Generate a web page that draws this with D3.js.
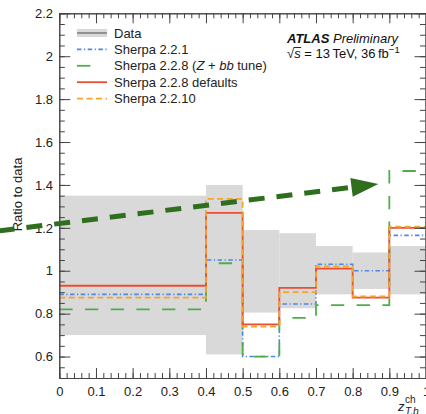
<!DOCTYPE html>
<html>
<head>
<meta charset="utf-8">
<script src="https://cdn.jsdelivr.net/npm/d3@7/dist/d3.min.js"></script>
<style>
  html, body { margin: 0; padding: 0; background: #fff; }
  svg { display: block; font-family: "Liberation Sans", Arial, Helvetica, sans-serif; }
</style>
</head>
<body>
<svg id="chart" width="426" height="414"></svg>
<script>
// Bin edges in z_T,b^ch and per-bin ratios to data
const binEdges     = [0, 0.4, 0.5, 0.6, 0.7, 0.8, 0.9, 1.0];
const dataLow      = [0.70, 0.61, 0.805, 0.825, 0.89, 0.915, 0.89];
const dataHigh     = [1.35, 1.40, 1.19, 1.175, 1.115, 1.085, 1.115];
const sherpa221    = [0.89, 1.05, 0.60, 0.845, 1.03, 1.00, 1.165];
const sherpa228Zbb = [0.82, 1.035, 0.60, 0.78, 0.84, 0.84, 1.465];
const sherpa228Def = [0.93, 1.27, 0.75, 0.92, 1.01, 0.875, 1.20];
const sherpa2210   = [0.875, 1.335, 0.74, 0.90, 1.02, 0.88, 1.205];

// Axis ticks
const xMajorTicks = [0, 0.1, 0.2, 0.3, 0.4, 0.5, 0.6, 0.7, 0.8, 0.9, 1];
const yMajorTicks = [0.6, 0.8, 1, 1.2, 1.4, 1.6, 1.8, 2, 2.2];

// Annotation arrow endpoints (x, ratio)
const arrowFrom = [-0.162, 1.186];
const arrowTo   = [0.870, 1.404];

const series = [
  { name: "Sherpa 2.2.1",             values: sherpa221,    color: "#4f86e8", dash: "4.5,2.5,1.2,2.5", width: 1.6, legendLen: 30 },
  { name: "Sherpa 2.2.8 (Z+bb tune)", values: sherpa228Zbb, color: "#4fae4a", dash: "13.3,12.4",       width: 1.8, legendLen: 15 },
  { name: "Sherpa 2.2.8 defaults",    values: sherpa228Def, color: "#ea4d35", dash: null,              width: 1.8, legendLen: 30 },
  { name: "Sherpa 2.2.10",            values: sherpa2210,   color: "#f5a42a", dash: "6,3.5",           width: 1.8, legendLen: 30 }
];

(function draw() {
  const svg = d3.select("#chart");
  const plotL = 59.3, plotR = 426, plotT = 13.3, plotB = 378;
  const x = d3.scaleLinear().domain([0, 1]).range([plotL, plotR]);
  const y = d3.scaleLinear().domain([0.5, 2.2]).range([plotB, plotT]);

  const axisColor = "#444";
  const textColor = "#222";

  // Data uncertainty band
  svg.append("g").selectAll("rect")
    .data(dataLow.map((lo, i) => ({ x0: binEdges[i], x1: binEdges[i + 1], lo, hi: dataHigh[i] })))
    .join("rect")
    .attr("x", d => x(d.x0))
    .attr("width", d => x(d.x1) - x(d.x0))
    .attr("y", d => y(d.hi))
    .attr("height", d => y(d.lo) - y(d.hi))
    .attr("fill", "#d9d9d9");

  // Histogram step lines
  const stepLine = d3.line()
    .x(d => x(d[0]))
    .y(d => y(d[1]))
    .curve(d3.curveStepAfter);

  series.forEach(s => {
    const pts = s.values.map((v, i) => [binEdges[i], v]);
    pts.push([binEdges[binEdges.length - 1], s.values[s.values.length - 1]]);
    svg.append("path")
      .attr("d", stepLine(pts))
      .attr("fill", "none")
      .attr("stroke", s.color)
      .attr("stroke-width", s.width)
      .attr("stroke-dasharray", s.dash);
  });

  // Axes (ticks pointing inward on all four sides)
  const xMinor = d3.range(0, 1.0001, 0.02).map(v => +v.toFixed(2));
  const yMinor = d3.range(0.5, 2.2001, 0.05).map(v => +v.toFixed(2));

  function styleAxis(g) {
    g.selectAll("path, line").attr("stroke", axisColor).attr("stroke-width", 1);
    g.selectAll("text").attr("fill", textColor).attr("font-size", 13)
      .attr("font-family", "Liberation Sans, Arial, Helvetica, sans-serif");
  }

  // bottom
  svg.append("g").attr("transform", `translate(0,${plotB})`)
    .call(d3.axisBottom(x).tickValues(xMinor).tickSize(-5).tickSizeOuter(0).tickFormat(""))
    .call(styleAxis);
  svg.append("g").attr("transform", `translate(0,${plotB})`)
    .call(d3.axisBottom(x).tickValues(xMajorTicks).tickSize(-10).tickSizeOuter(0).tickPadding(9)
      .tickFormat(d => d3.format("~g")(d)))
    .call(styleAxis);
  // top
  svg.append("g").attr("transform", `translate(0,${plotT})`)
    .call(d3.axisTop(x).tickValues(xMinor).tickSize(-5).tickSizeOuter(0).tickFormat(""))
    .call(styleAxis);
  svg.append("g").attr("transform", `translate(0,${plotT})`)
    .call(d3.axisTop(x).tickValues(xMajorTicks).tickSize(-10).tickSizeOuter(0).tickFormat(""))
    .call(styleAxis);
  // left
  svg.append("g").attr("transform", `translate(${plotL},0)`)
    .call(d3.axisLeft(y).tickValues(yMinor).tickSize(-5.5).tickSizeOuter(0).tickFormat(""))
    .call(styleAxis);
  svg.append("g").attr("transform", `translate(${plotL},0)`)
    .call(d3.axisLeft(y).tickValues(yMajorTicks).tickSize(-11).tickSizeOuter(0).tickPadding(6.3)
      .tickFormat(d => d3.format("~g")(d)))
    .call(styleAxis);
  // right
  svg.append("g").attr("transform", `translate(${plotR - 0.5},0)`)
    .call(d3.axisRight(y).tickValues(yMinor).tickSize(-5.5).tickSizeOuter(0).tickFormat(""))
    .call(styleAxis);
  svg.append("g").attr("transform", `translate(${plotR - 0.5},0)`)
    .call(d3.axisRight(y).tickValues(yMajorTicks).tickSize(-11).tickSizeOuter(0).tickFormat(""))
    .call(styleAxis);

  // Axis titles
  svg.append("text")
    .attr("transform", "translate(22,194.5) rotate(-90)")
    .attr("text-anchor", "middle")
    .attr("font-size", 13)
    .attr("fill", textColor)
    .text("Ratio to data");

  const xt = svg.append("text").attr("x", 398).attr("y", 411).attr("font-size", 13).attr("fill", textColor);
  xt.append("tspan").attr("font-style", "italic").text("z");
  xt.append("tspan").attr("font-size", 10).attr("dy", -8.5).attr("dx", 0.5).text("ch");
  xt.append("tspan").attr("font-size", 10).attr("font-style", "italic").attr("x", 405).attr("dy", 12).text("T,b");

  // Legend
  const legendX = 77, legendW = 30, legendTextX = 114, legendY0 = 33, legendDy = 16.4;
  const legend = svg.append("g");
  const dataRow = legend.append("g").attr("transform", `translate(0,${legendY0})`);
  dataRow.append("rect").attr("x", legendX).attr("y", -4).attr("width", legendW).attr("height", 8).attr("fill", "#d9d9d9");
  dataRow.append("line").attr("x1", legendX).attr("x2", legendX + legendW).attr("stroke", "#777").attr("stroke-width", 1.5);
  dataRow.append("text").attr("x", legendTextX).attr("dy", "0.35em").attr("font-size", 13).attr("fill", textColor).text("Data");

  series.forEach((s, i) => {
    const row = legend.append("g").attr("transform", `translate(0,${legendY0 + legendDy * (i + 1)})`);
    row.append("line").attr("x1", legendX).attr("x2", legendX + s.legendLen)
      .attr("stroke", s.color).attr("stroke-width", s.width).attr("stroke-dasharray", s.dash);
    const t = row.append("text").attr("x", legendTextX).attr("dy", "0.35em").attr("font-size", 13).attr("fill", textColor);
    if (s.name.includes("Z+bb")) {
      t.append("tspan").text("Sherpa 2.2.8 (");
      t.append("tspan").attr("font-style", "italic").text("Z");
      t.append("tspan").text(" + ");
      t.append("tspan").attr("font-style", "italic").text("bb");
      t.append("tspan").text(" tune)");
    } else {
      t.text(s.name);
    }
  });

  // ATLAS label
  const atlas = svg.append("text").attr("x", 287).attr("y", 42.5).attr("font-size", 13).attr("fill", "#111");
  atlas.append("tspan").attr("font-weight", "bold").attr("font-style", "italic").text("ATLAS");
  atlas.append("tspan").attr("font-style", "italic").text(" Preliminary");

  const energy = svg.append("text").attr("x", 287).attr("y", 58).attr("font-size", 13).attr("fill", "#111");
  energy.append("tspan").text("\u221A");
  energy.append("tspan").attr("font-style", "italic").text("s");
  energy.append("tspan").text(" = 13\u2009TeV, 36\u2009fb");
  energy.append("tspan").attr("font-size", 9.5).attr("dy", -5).text("\u22121");
  {
    const n = energy.node();
    const sx0 = n.getStartPositionOfChar(1).x;
    const sx1 = n.getEndPositionOfChar(1).x;
    svg.append("line").attr("x1", sx0 - 0.5).attr("x2", sx1 + 0.5)
      .attr("y1", 58 - 10.5).attr("y2", 58 - 10.5)
      .attr("stroke", "#111").attr("stroke-width", 0.9);
  }

  // Annotation arrow
  {
    const p0 = [x(arrowFrom[0]), y(arrowFrom[1])];
    const p1 = [x(arrowTo[0]), y(arrowTo[1])];
    const dx = p1[0] - p0[0], dy = p1[1] - p0[1];
    const len = Math.hypot(dx, dy);
    const ux = dx / len, uy = dy / len;
    const headLen = 27, headHalf = 9.5;
    const base = [p1[0] - ux * headLen, p1[1] - uy * headLen];
    const green = "#2e6e1c";
    svg.append("line")
      .attr("x1", p0[0]).attr("y1", p0[1])
      .attr("x2", base[0] - ux * 2).attr("y2", base[1] - uy * 2)
      .attr("stroke", green).attr("stroke-width", 5)
      .attr("stroke-dasharray", "16,12").attr("stroke-dashoffset", 1.3);
    svg.append("path")
      .attr("d", `M${p1[0]},${p1[1]} L${base[0] - uy * headHalf},${base[1] + ux * headHalf} L${base[0] + uy * headHalf},${base[1] - ux * headHalf} Z`)
      .attr("fill", green);
  }
})();
</script>
</body>
</html>
